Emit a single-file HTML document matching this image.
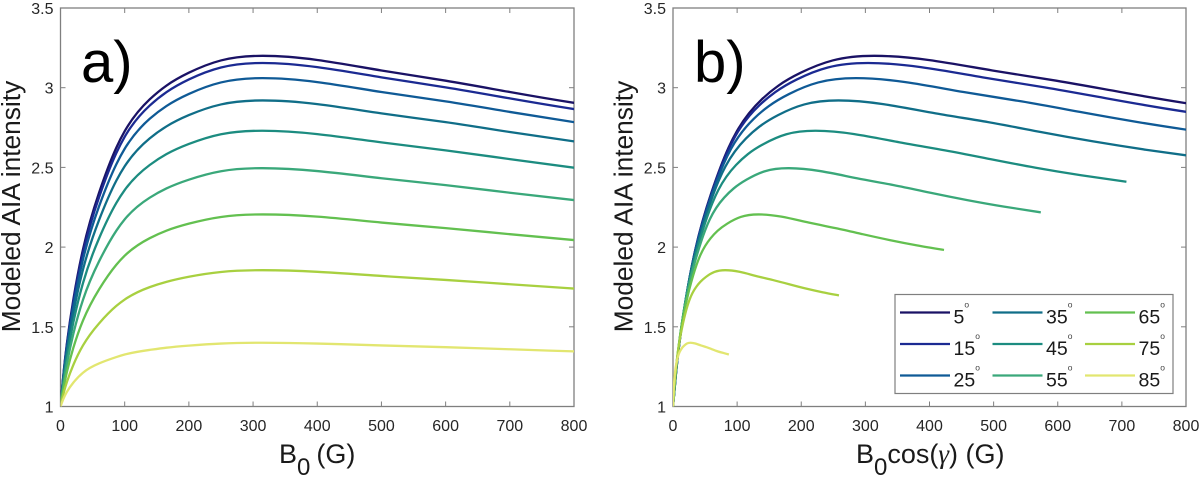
<!DOCTYPE html>
<html>
<head>
<meta charset="utf-8">
<style>
html,body{margin:0;padding:0;background:#fff;}
svg{display:block;font-family:"Liberation Sans",sans-serif;}
</style>
</head>
<body>
<svg id="fig" width="1200" height="477" viewBox="0 0 1200 477" xmlns="http://www.w3.org/2000/svg"></svg>
<script>
const angles = [5, 15, 25, 35, 45, 55, 65, 75, 85];
const seriesColors = ['#1a1265', '#1b2a92', '#0f5a96', '#106e88', '#1c8c80', '#3aa87a', '#63c050', '#a8d040', '#e2e670'];
const b0Values = [0, 5, 10, 20, 35, 60, 87, 100, 139, 165, 200, 250, 315, 400, 500, 600, 700, 800, 900, 1000];
const intensity5 = [1, 1.22, 1.396, 1.671, 1.985, 2.34, 2.624, 2.727, 2.927, 3.013, 3.094, 3.171, 3.2, 3.174, 3.108, 3.044, 2.973, 2.905, 2.846, 2.793];
const intensity15 = [1, 1.216, 1.388, 1.657, 1.964, 2.312, 2.59, 2.692, 2.888, 2.972, 3.052, 3.127, 3.155, 3.129, 3.065, 3.002, 2.933, 2.866, 2.808, 2.756];
const intensity25 = [1, 1.206, 1.371, 1.628, 1.922, 2.255, 2.52, 2.617, 2.805, 2.885, 2.961, 3.033, 3.06, 3.035, 2.973, 2.914, 2.848, 2.784, 2.728, 2.679];
const intensity35 = [1, 1.192, 1.346, 1.586, 1.859, 2.169, 2.417, 2.507, 2.682, 2.757, 2.828, 2.895, 2.92, 2.897, 2.839, 2.784, 2.722, 2.663, 2.611, 2.565];
const intensity45 = [1, 1.173, 1.311, 1.528, 1.774, 2.054, 2.277, 2.358, 2.515, 2.583, 2.647, 2.708, 2.73, 2.709, 2.657, 2.607, 2.552, 2.498, 2.451, 2.41];
const intensity55 = [1, 1.15, 1.269, 1.456, 1.669, 1.91, 2.103, 2.174, 2.31, 2.368, 2.423, 2.476, 2.495, 2.477, 2.432, 2.389, 2.341, 2.295, 2.254, 2.218];
const intensity65 = [1, 1.121, 1.217, 1.368, 1.539, 1.734, 1.889, 1.946, 2.056, 2.103, 2.147, 2.189, 2.205, 2.191, 2.154, 2.119, 2.081, 2.044, 2.011, 1.982];
const intensity75 = [1, 1.086, 1.154, 1.261, 1.383, 1.521, 1.631, 1.671, 1.749, 1.782, 1.814, 1.844, 1.855, 1.845, 1.819, 1.794, 1.767, 1.74, 1.717, 1.697];
const intensity85 = [1, 1.052, 1.092, 1.15, 1.212, 1.27, 1.31, 1.326, 1.355, 1.369, 1.382, 1.395, 1.4, 1.395, 1.383, 1.372, 1.359, 1.346, 1.336, 1.326];
const allIntensity = [intensity5, intensity15, intensity25, intensity35, intensity45, intensity55, intensity65, intensity75, intensity85];
const xTicks = [0, 100, 200, 300, 400, 500, 600, 700, 800];
const yTicks = [1, 1.5, 2, 2.5, 3, 3.5];
const yTickLabels = ['1', '1.5', '2', '2.5', '3', '3.5'];

const NS = 'http://www.w3.org/2000/svg';
const svg = document.getElementById('fig');
const AX = '#7f7f7f', TXT = '#262626';

function mk(tag, attrs, parent, text) {
  const e = document.createElementNS(NS, tag);
  for (const k in attrs) e.setAttribute(k, attrs[k]);
  if (text !== undefined) e.textContent = text;
  (parent || svg).appendChild(e);
  return e;
}

function splineTangents(xs, ys) {
  const n = xs.length, h = [], d = [];
  for (let i = 0; i < n - 1; i++) {
    h.push(xs[i + 1] - xs[i]);
    d.push((ys[i + 1] - ys[i]) / h[i]);
  }
  const a = new Array(n).fill(0), b = new Array(n).fill(0), c = new Array(n).fill(0), r = new Array(n).fill(0);
  b[0] = 2; c[0] = 1; r[0] = 3 * d[0];
  b[n - 1] = 2; a[n - 1] = 1; r[n - 1] = 3 * d[n - 2];
  for (let i = 1; i < n - 1; i++) {
    a[i] = h[i];
    b[i] = 2 * (h[i - 1] + h[i]);
    c[i] = h[i - 1];
    r[i] = 3 * (h[i] * d[i - 1] + h[i - 1] * d[i]);
  }
  for (let i = 1; i < n; i++) {
    const f = a[i] / b[i - 1];
    b[i] -= f * c[i - 1];
    r[i] -= f * r[i - 1];
  }
  const m = new Array(n);
  m[n - 1] = r[n - 1] / b[n - 1];
  for (let i = n - 2; i >= 0; i--) m[i] = (r[i] - c[i] * m[i + 1]) / b[i];
  return m;
}

function smoothPath(xs, ys) {
  const n = xs.length, m = splineTangents(xs, ys);
  let p = 'M' + xs[0].toFixed(2) + ' ' + ys[0].toFixed(2);
  for (let i = 0; i < n - 1; i++) {
    const h = (xs[i + 1] - xs[i]) / 3;
    p += 'C' + (xs[i] + h).toFixed(2) + ' ' + (ys[i] + m[i] * h).toFixed(2) + ' ' +
      (xs[i + 1] - h).toFixed(2) + ' ' + (ys[i + 1] - m[i + 1] * h).toFixed(2) + ' ' +
      xs[i + 1].toFixed(2) + ' ' + ys[i + 1].toFixed(2);
  }
  return p;
}

function drawPanel(key, left, right, useCos) {
  const top = 8, bottom = 406.5;
  const sx = v => left + (right - left) * v / 800;
  const sy = v => bottom - (bottom - top) * (v - 1) / 2.5;
  const g = mk('g', {});
  
  
  const defs = mk('defs', {}, g);
  const cp = mk('clipPath', { id: 'clip-' + key }, defs);
  mk('rect', { x: left, y: top, width: right - left, height: bottom - top }, cp);

  const frame = mk('rect', { x: left, y: top, width: right - left, height: bottom - top, fill: 'none', stroke: AX, 'stroke-width': 1.3 }, g);
  
  

  xTicks.forEach(t => {
    const x = sx(t);
    const tb = mk('line', { x1: x, x2: x, y1: bottom, y2: bottom - 5, stroke: AX, 'stroke-width': 1 }, g);
    
    
    const tt = mk('line', { x1: x, x2: x, y1: top, y2: top + 5, stroke: AX, 'stroke-width': 1 }, g);
    
    
    const lb = mk('text', { x: x, y: 431, 'text-anchor': 'middle', 'font-size': 16, fill: TXT }, g, String(t));
    
    
  });
  yTicks.forEach((t, i) => {
    const y = sy(t);
    const tl = mk('line', { x1: left, x2: left + 5, y1: y, y2: y, stroke: AX, 'stroke-width': 1 }, g);
    
    
    const tr = mk('line', { x1: right, x2: right - 5, y1: y, y2: y, stroke: AX, 'stroke-width': 1 }, g);
    
    
    const lb = mk('text', { x: left - 7, y: y + 6, 'text-anchor': 'end', 'font-size': 16, fill: TXT }, g, yTickLabels[i]);
    
    
  });

  const lines = mk('g', { 'clip-path': 'url(#clip-' + key + ')' }, g);
  angles.forEach((a, i) => {
    const c = useCos ? Math.cos(a * Math.PI / 180) : 1;
    const xs = b0Values.map(b => sx(b * c));
    const ys = allIntensity[i].map(sy);
    const path = mk('path', { d: smoothPath(xs, ys), fill: 'none', stroke: seriesColors[i], 'stroke-width': 2.3, 'stroke-linecap': 'butt' }, lines);
    
    
  });
}

drawPanel('a', 60.5, 574, false);
drawPanel('b', 673, 1186, true);

function yTitle(x, name) {
  const t = mk('text', { transform: 'translate(' + x + ',206.5) rotate(-90)', 'text-anchor': 'middle', 'font-size': 26.3, fill: '#1a1a1a' }, svg, 'Modeled AIA intensity');
  
  
}
yTitle(20, 'y-axis-title-a');
yTitle(632.5, 'y-axis-title-b');

const xTitleA = mk('text', { x: 279, y: 463, 'font-size': 27, fill: '#1a1a1a' });


mk('tspan', {}, xTitleA, 'B');
mk('tspan', { dy: 12, 'font-size': 24 }, xTitleA, '0');
mk('tspan', { dy: -12, dx: 6 }, xTitleA, '(G)');

const xTitleB = mk('text', { x: 856, y: 463, 'font-size': 27, fill: '#1a1a1a' });


mk('tspan', {}, xTitleB, 'B');
mk('tspan', { dy: 12, 'font-size': 24 }, xTitleB, '0');
mk('tspan', { dy: -12 }, xTitleB, 'cos(');
mk('tspan', { 'font-family': '"Liberation Serif",serif', 'font-style': 'italic' }, xTitleB, 'γ');
mk('tspan', {}, xTitleB, ') (G)');

const labelA = mk('text', { x: 81, y: 82, 'font-size': 58, fill: '#000' }, svg, 'a)');


const labelB = mk('text', { x: 694, y: 82, 'font-size': 58, fill: '#000' }, svg, 'b)');



const legend = mk('g', {});


const legendBox = mk('rect', { x: 895, y: 294.5, width: 278, height: 99, fill: '#fff', stroke: AX, 'stroke-width': 1.2 }, legend);


const colX = [900, 992.5, 1085];
const rowY = [312.5, 344, 375.5];
angles.forEach((a, i) => {
  const cx = colX[Math.floor(i / 3)], cy = rowY[i % 3];
  const entry = mk('g', {}, legend);
  
  
  mk('line', { x1: cx, x2: cx + 50, y1: cy, y2: cy, stroke: seriesColors[i], 'stroke-width': 2.3 }, entry);
  const label = String(a);
  mk('text', { x: cx + 53.5, y: cy + 11, 'font-size': 19.5, fill: '#1a1a1a' }, entry, label);
  mk('text', { x: cx + 53.5 + label.length * 10.85, y: cy - 5, 'font-size': 8.5, fill: '#444' }, entry, 'o');
});
</script>
</body>
</html>
